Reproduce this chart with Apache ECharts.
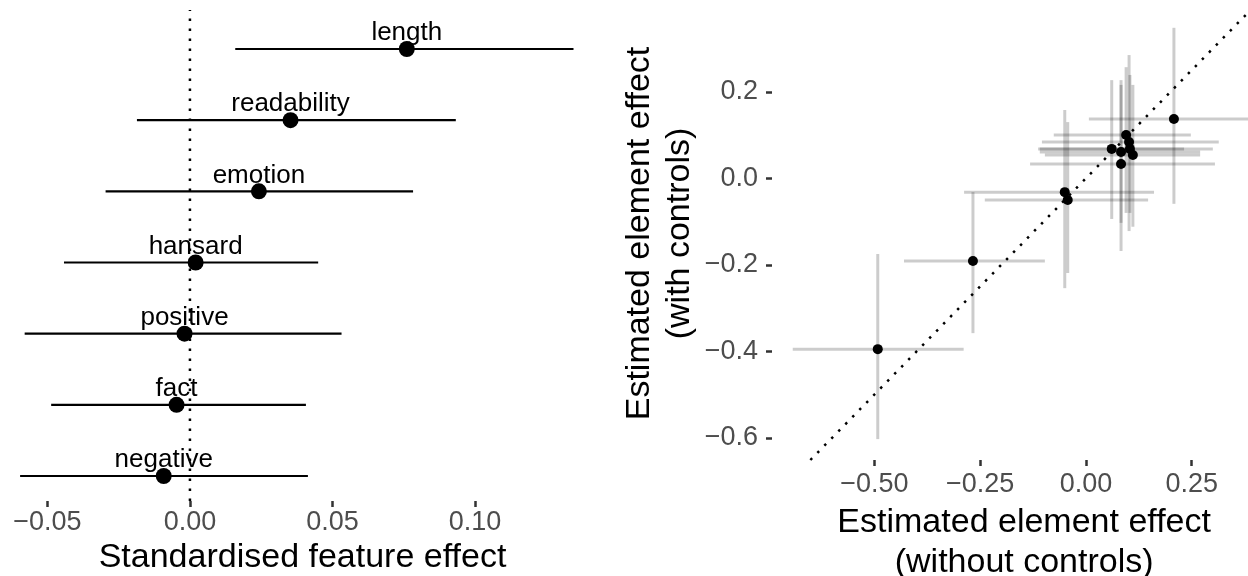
<!DOCTYPE html>
<html><head><meta charset="utf-8">
<script src="https://cdn.jsdelivr.net/npm/echarts@6/dist/echarts.min.js"></script>
<style>html,body{margin:0;padding:0;background:#fff}#c{width:1248px;height:576px}</style>
</head><body><div id="c"></div>
<script>
// ---- Left panel: standardised feature effects ----
const features = ['length', 'readability', 'emotion', 'hansard', 'positive', 'fact', 'negative'];
const featEst  = [0.0761, 0.0353, 0.0242, 0.0020, -0.0019, -0.0047, -0.0092];
const featLo   = [0.0159, -0.0186, -0.0296, -0.0442, -0.0580, -0.0487, -0.0596];
const featHi   = [0.1346, 0.0933, 0.0783, 0.0450, 0.0532, 0.0407, 0.0414];
const leftTicks = [-0.05, 0, 0.05, 0.10];

// ---- Right panel: element effects without vs with controls ----
const elemX    = [0.208, 0.095, 0.102, 0.061, 0.104, 0.083, 0.111, 0.083, -0.050, -0.043, -0.267, -0.492];
const elemY    = [0.137, 0.100, 0.084, 0.068, 0.068, 0.061, 0.054, 0.033, -0.032, -0.050, -0.191, -0.395];
const elemXlo  = [0.007, -0.076, -0.104, -0.113, -0.109, -0.109, -0.097, -0.132, -0.288, -0.239, -0.430, -0.693];
const elemXhi  = [0.420, 0.248, 0.314, 0.300, 0.232, 0.270, 0.270, 0.305, 0.161, 0.147, -0.097, -0.289];
const elemYlo  = [-0.059, -0.080, -0.122, -0.094, -0.080, -0.103, -0.112, -0.168, -0.254, -0.219, -0.358, -0.603];
const elemYhi  = [0.348, 0.257, 0.285, 0.227, 0.239, 0.227, 0.216, 0.216, 0.158, 0.130, -0.032, -0.175];
const rightXTicks = [-0.50, -0.25, 0, 0.25];
const rightYTicks = [-0.6, -0.4, -0.2, 0, 0.2];

// axis extents
const L = { xmin: -0.0649, xmax: 0.1439, ymin: -0.351, ymax: 6.548 };
const R = { xmin: -0.742, xmax: 0.45, ymin: -0.6513, ymax: 0.3961 };

const n = features.length;
const rowPos = features.map((_, i) => n - 1 - i);
const fmt = d => v => (v < -1e-9 ? '\u2212' : '') + Math.abs(v).toFixed(d);
const FONT = 'Liberation Sans';
const tickStyle = { color: '#333333', width: 2.5 };
const labelStyle = { fontFamily: FONT, fontSize: 27, color: '#4d4d4d' };
const hiddenLine = { show: false, onZero: false };

const leftBars = features.map((f, i) => [featLo[i], featHi[i], rowPos[i]]);
const leftPts = features.map((f, i) => ({ value: [featEst[i], rowPos[i]], name: f }));
const hBars = elemX.map((x, i) => [elemXlo[i], elemXhi[i], elemY[i]]);
const vBars = elemX.map((x, i) => [x, elemYlo[i], elemYhi[i]]);
const pts = elemX.map((x, i) => [x, elemY[i]]);

const chart = echarts.init(document.getElementById('c'));
chart.setOption({
  animation: false,
  backgroundColor: '#ffffff',
  textStyle: { fontFamily: FONT },
  grid: [
    { left: 5, top: 10, width: 595, height: 491, outerBoundsMode: 'none', containLabel: false },
    { left: 772, top: 7, width: 504.3, height: 453, outerBoundsMode: 'none', containLabel: false }
  ],
  xAxis: [
    {
      gridIndex: 0, type: 'value', min: L.xmin, max: L.xmax, position: 'bottom',
      splitLine: { show: false }, axisLine: hiddenLine,
      axisTick: { show: true, length: 6, lineStyle: tickStyle, customValues: leftTicks },
      axisLabel: Object.assign({ margin: 8, formatter: fmt(2), customValues: leftTicks }, labelStyle),
      name: 'Standardised feature effect', nameLocation: 'middle', nameGap: 38,
      nameTextStyle: { fontFamily: FONT, fontSize: 34, color: '#000' }
    },
    {
      gridIndex: 1, type: 'value', min: R.xmin, max: R.xmax, position: 'bottom',
      splitLine: { show: false }, axisLine: hiddenLine,
      axisTick: { show: true, length: 6, lineStyle: tickStyle, customValues: rightXTicks },
      axisLabel: Object.assign({ margin: 11, formatter: fmt(2), customValues: rightXTicks }, labelStyle),
      name: 'Estimated element effect\n(without controls)', nameLocation: 'middle', nameGap: 37,
      nameTextStyle: { fontFamily: FONT, fontSize: 34, color: '#000', lineHeight: 40 }
    }
  ],
  yAxis: [
    { gridIndex: 0, type: 'value', min: L.ymin, max: L.ymax, show: false, axisLine: { onZero: false } },
    {
      gridIndex: 1, type: 'value', min: R.ymin, max: R.ymax, position: 'left',
      splitLine: { show: false }, axisLine: hiddenLine,
      axisTick: { show: true, length: 6, lineStyle: tickStyle, customValues: rightYTicks },
      axisLabel: Object.assign({ margin: 14, formatter: fmt(1), customValues: rightYTicks }, labelStyle),
      name: 'Estimated element effect\n(with controls)', nameLocation: 'middle', nameGap: 72, nameRotate: 90,
      nameTextStyle: { fontFamily: FONT, fontSize: 34, color: '#000', lineHeight: 40 }
    }
  ],
  series: [
    // left reference line at zero
    {
      type: 'line', xAxisIndex: 0, yAxisIndex: 0, symbol: 'none', silent: true,
      data: [[0, L.ymin], [0, L.ymax]],
      lineStyle: { color: '#000', width: 2.5, type: [2.5, 7.5] }, z: 1
    },
    // left error bars
    {
      type: 'custom', xAxisIndex: 0, yAxisIndex: 0, data: leftBars, z: 2,
      renderItem: (params, api) => {
        const a = api.coord([api.value(0), api.value(2)]);
        const b = api.coord([api.value(1), api.value(2)]);
        return { type: 'line', shape: { x1: a[0], y1: a[1], x2: b[0], y2: b[1] },
                 style: { stroke: '#000', lineWidth: 2.2 } };
      }
    },
    // left points + labels
    {
      type: 'scatter', xAxisIndex: 0, yAxisIndex: 0, data: leftPts, symbolSize: 16, z: 3,
      itemStyle: { color: '#000', opacity: 1 },
      label: { show: true, position: 'top', distance: -5, formatter: p => p.name,
               fontFamily: FONT, fontSize: 26, color: '#000' }
    },
    // right diagonal reference y = x
    {
      type: 'line', xAxisIndex: 1, yAxisIndex: 1, symbol: 'none', silent: true,
      data: [[R.ymin, R.ymin], [R.ymax, R.ymax]],
      lineStyle: { color: '#000', width: 2.5, type: [2.5, 7.5] }, z: 1
    },
    // right horizontal error bars
    {
      type: 'custom', xAxisIndex: 1, yAxisIndex: 1, data: hBars, z: 2, clip: true,
      renderItem: (params, api) => {
        const a = api.coord([api.value(0), api.value(2)]);
        const b = api.coord([api.value(1), api.value(2)]);
        return { type: 'line', shape: { x1: a[0], y1: a[1], x2: b[0], y2: b[1] },
                 style: { stroke: 'rgba(0,0,0,0.2)', lineWidth: 3 } };
      }
    },
    // right vertical error bars
    {
      type: 'custom', xAxisIndex: 1, yAxisIndex: 1, data: vBars, z: 2, clip: true,
      renderItem: (params, api) => {
        const a = api.coord([api.value(0), api.value(1)]);
        const b = api.coord([api.value(0), api.value(2)]);
        return { type: 'line', shape: { x1: a[0], y1: a[1], x2: b[0], y2: b[1] },
                 style: { stroke: 'rgba(0,0,0,0.2)', lineWidth: 3 } };
      }
    },
    // right points
    {
      type: 'scatter', xAxisIndex: 1, yAxisIndex: 1, data: pts, symbolSize: 10, z: 3,
      itemStyle: { color: '#000', opacity: 1 }
    }
  ]
});
</script></body></html>
